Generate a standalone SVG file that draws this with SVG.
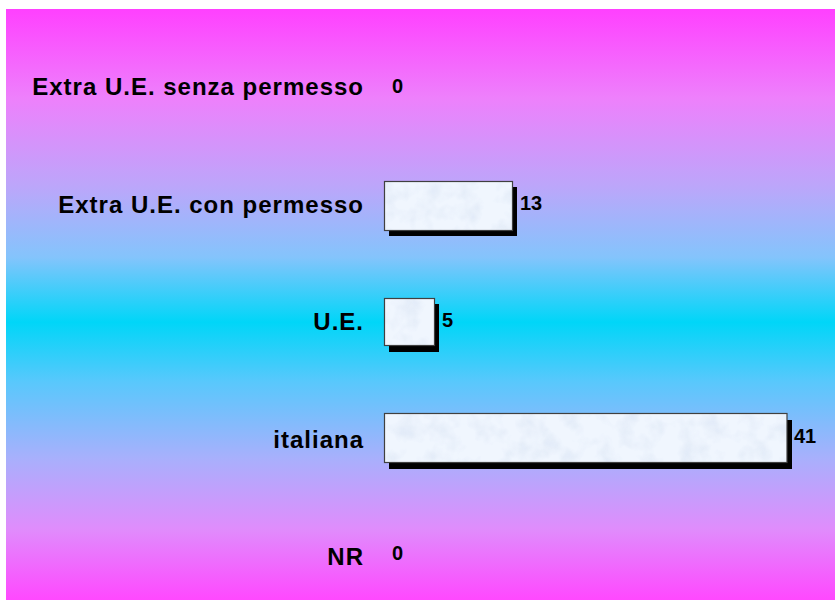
<svg xmlns="http://www.w3.org/2000/svg" width="835" height="600" viewBox="0 0 835 600">
<defs>
<linearGradient id="bg" x1="0" y1="0" x2="0" y2="1">
<stop offset="0" stop-color="#ff40ff"/>
<stop offset="0.15" stop-color="#ee80fc"/>
<stop offset="0.3" stop-color="#bca6fa"/>
<stop offset="0.42" stop-color="#84c4fc"/>
<stop offset="0.53" stop-color="#00d6f8"/>
<stop offset="0.63" stop-color="#58c8fc"/>
<stop offset="0.76" stop-color="#a8b0fc"/>
<stop offset="0.88" stop-color="#e08cfc"/>
<stop offset="1" stop-color="#ff48ff"/>
</linearGradient>
<filter id="paper" x="0" y="0" width="1" height="1" color-interpolation-filters="sRGB">
<feTurbulence type="fractalNoise" baseFrequency="0.05" numOctaves="3" seed="4" result="n"/>
<feColorMatrix in="n" type="matrix" values="0 0 0 0 0.86  0 0 0 0 0.9  0 0 0 0 0.96  0 0 0 -1.6 0.9" result="c"/>
<feComposite in="c" in2="SourceGraphic" operator="in" result="t"/>
<feMerge><feMergeNode in="SourceGraphic"/><feMergeNode in="t"/></feMerge>
</filter>
</defs>
<style>
.lbl{font-family:"Liberation Sans",Arial,sans-serif;font-weight:bold;font-size:24px;letter-spacing:1px;fill:#000;text-anchor:end}
.val{font-family:"Liberation Sans",Arial,sans-serif;font-weight:bold;font-size:20px;fill:#000}
.fill{fill:#f0f6fe}
.edge{fill:none;stroke:#404040;stroke-width:1.2}
.shadow{fill:#000}
</style>
<rect x="6" y="9" width="829" height="591" fill="url(#bg)"/>
<g id="cat-senza">
<text class="lbl" x="364" y="95">Extra U.E. senza permesso</text>
<text class="val" x="392" y="93">0</text>
</g>
<g id="cat-con">
<rect class="shadow" x="389" y="187" width="128" height="49"/>
<rect class="fill" x="384.5" y="181.5" width="128" height="49" filter="url(#paper)"/>
<rect class="edge" x="384.5" y="181.5" width="128" height="49"/>
<text class="lbl" x="364" y="213">Extra U.E. con permesso</text>
<text class="val" x="520" y="210">13</text>
</g>
<g id="cat-ue">
<rect class="shadow" x="389" y="304" width="50" height="48"/>
<rect class="fill" x="384.5" y="298.5" width="50" height="47" filter="url(#paper)"/>
<rect class="edge" x="384.5" y="298.5" width="50" height="47"/>
<text class="lbl" x="364" y="330">U.E.</text>
<text class="val" x="442" y="327">5</text>
</g>
<g id="cat-italiana">
<rect class="shadow" x="389" y="420" width="403" height="49"/>
<rect class="fill" x="384.5" y="413.5" width="402.5" height="49" filter="url(#paper)"/>
<rect class="edge" x="384.5" y="413.5" width="402.5" height="49"/>
<text class="lbl" x="364" y="448">italiana</text>
<text class="val" x="794" y="443">41</text>
</g>
<g id="cat-nr">
<text class="lbl" x="364" y="565">NR</text>
<text class="val" x="392" y="560">0</text>
</g>
<g id="connectors"/>
</svg>
